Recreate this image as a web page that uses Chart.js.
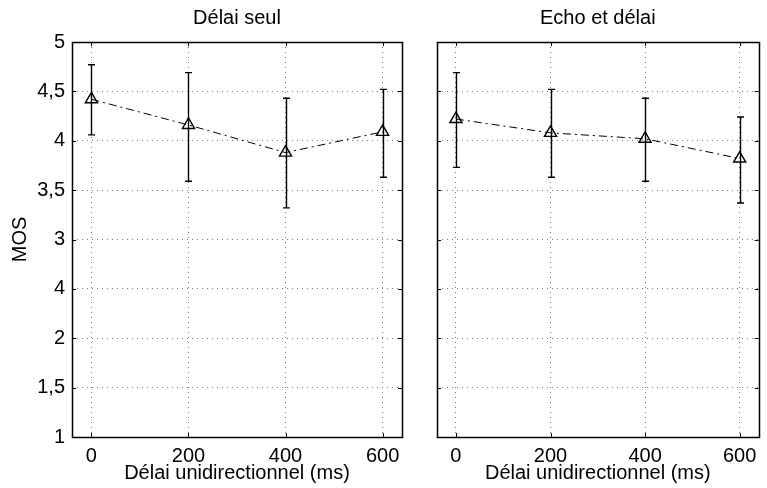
<!DOCTYPE html>
<html>
<head>
<meta charset="utf-8">
<title>MOS - délai</title>
<script src="https://cdn.jsdelivr.net/npm/chart.js@4/dist/chart.umd.min.js"></script>
<style>
    html, body { margin: 0; padding: 0; background: #fff; }
    #wrap { position: relative; width: 767px; height: 488px; }
    .panel { position: absolute; top: 0; }
    #panelLeft { left: 0; }
    #panelRight { left: 420px; }
</style>
</head>
<body>
<div id="wrap">
    <div class="panel" id="panelLeft"><canvas id="chartLeft" width="420" height="488"></canvas></div>
    <div class="panel" id="panelRight"><canvas id="chartRight" width="347" height="488"></canvas></div>
</div>
<script>
// Chart data
const xValues = [0, 200, 400, 600];
const xTicks = [0, 200, 400, 600];
const yTicks = [1, 1.5, 2, 2.5, 3, 3.5, 4, 4.5, 5];
const yLabels = ['1', '1,5', '2', '4', '3', '3,5', '4', '4,5', '5'];

const delayMean = [4.42, 4.16, 3.88, 4.09];
const delayLow = [4.06, 3.59, 3.32, 3.63];
const delayHigh = [4.77, 4.69, 4.43, 4.52];

const echoMean = [4.22, 4.08, 4.02, 3.82];
const echoLow = [3.73, 3.63, 3.59, 3.37];
const echoHigh = [4.69, 4.52, 4.43, 4.24];

const FONT = { family: "'Liberation Sans', Arial, Helvetica, sans-serif", size: 20, weight: 'normal' };

// error bars with small caps
const errorBarPlugin = {
    id: 'errorBars',
    afterDatasetsDraw(chart, args, opts) {
        const { ctx, scales: { x, y } } = chart;
        ctx.save();
        ctx.strokeStyle = '#000';
        ctx.lineWidth = 1.4;
        opts.low.forEach((lo, i) => {
            const px = Math.round(x.getPixelForValue(xValues[i])) + 0.5;
            const y1 = y.getPixelForValue(lo);
            const y2 = y.getPixelForValue(opts.high[i]);
            ctx.beginPath();
            ctx.moveTo(px, y1); ctx.lineTo(px, y2);
            ctx.moveTo(px - 3.5, y1); ctx.lineTo(px + 3.5, y1);
            ctx.moveTo(px - 3.5, y2); ctx.lineTo(px + 3.5, y2);
            ctx.stroke();
        });
        ctx.restore();
    }
};

// box around the axes and inward tick marks (matlab style)
const framePlugin = {
    id: 'frame',
    afterDraw(chart) {
        const { ctx, chartArea: a, scales: { x, y } } = chart;
        ctx.save();
        ctx.strokeStyle = '#000';
        ctx.lineWidth = 1;
        ctx.beginPath();
        x.ticks.forEach(t => {
            const px = Math.round(x.getPixelForValue(t.value)) + 0.5;
            ctx.moveTo(px, a.bottom); ctx.lineTo(px, a.bottom - 4);
            ctx.moveTo(px, a.top); ctx.lineTo(px, a.top + 4);
        });
        y.ticks.forEach(t => {
            const py = Math.round(y.getPixelForValue(t.value)) + 0.5;
            ctx.moveTo(a.left, py); ctx.lineTo(a.left + 4, py);
            ctx.moveTo(a.right, py); ctx.lineTo(a.right - 4, py);
        });
        ctx.stroke();
        ctx.lineWidth = 1.5;
        ctx.strokeRect(Math.round(a.left) + 0.5, Math.round(a.top) + 0.5,
            Math.round(a.right - a.left), Math.round(a.bottom - a.top));
        ctx.restore();
    }
};

function buildPanel(canvasId, title, means, low, high, showY, yWidth, padRight) {
    const ctx = document.getElementById(canvasId).getContext('2d');
    return new Chart(ctx, {
        type: 'line',
        data: {
            datasets: [{
                data: xValues.map((v, i) => ({ x: v, y: means[i] })),
                borderColor: '#000',
                borderWidth: 1,
                borderDash: [8, 4, 2, 4],
                pointStyle: 'triangle',
                pointRadius: 7,
                pointBorderWidth: 1.4,
                pointBorderColor: '#000',
                pointBackgroundColor: 'rgba(0,0,0,0)',
                fill: false,
                tension: 0
            }]
        },
        options: {
            responsive: false,
            animation: false,
            events: [],
            layout: { padding: { left: 0, right: padRight, top: 0, bottom: 0 } },
            plugins: {
                legend: { display: false },
                tooltip: { enabled: false },
                title: {
                    display: true,
                    text: title,
                    fullSize: false,
                    color: '#000',
                    font: FONT,
                    padding: { top: 6, bottom: 12 }
                },
                errorBars: { low: low, high: high }
            },
            scales: {
                x: {
                    type: 'linear',
                    min: -40,
                    max: 640,
                    afterBuildTicks: s => { s.ticks = xTicks.map(v => ({ value: v })); },
                    afterFit: s => { s.height = 51; },
                    ticks: { color: '#000', font: FONT, padding: 7, maxRotation: 0, autoSkip: false },
                    grid: { color: '#777', lineWidth: 1, drawTicks: false },
                    border: { display: false, dash: [1, 4] },
                    title: {
                        display: true,
                        text: 'Délai unidirectionnel (ms)',
                        color: '#000',
                        font: FONT,
                        padding: { top: 0, bottom: 3 }
                    }
                },
                y: {
                    min: 1,
                    max: 5,
                    afterBuildTicks: s => { s.ticks = yTicks.map(v => ({ value: v })); },
                    afterFit: s => { s.width = yWidth; },
                    ticks: {
                        display: showY,
                        color: '#000',
                        font: FONT,
                        padding: 7,
                        autoSkip: false,
                        callback: v => yLabels[yTicks.indexOf(v)]
                    },
                    grid: { color: '#777', lineWidth: 1, drawTicks: false },
                    border: { display: false, dash: [1, 4] },
                    title: {
                        display: showY,
                        text: 'MOS',
                        color: '#000',
                        font: FONT,
                        padding: { top: 8, bottom: 0 }
                    }
                }
            }
        },
        plugins: [errorBarPlugin, framePlugin]
    });
}

document.addEventListener('DOMContentLoaded', function () {
    buildPanel('chartLeft', 'Délai seul', delayMean, delayLow, delayHigh, true, 72, 18);
    buildPanel('chartRight', 'Echo et délai', echoMean, echoLow, echoHigh, false, 17, 3);
});
</script>
</body>
</html>
